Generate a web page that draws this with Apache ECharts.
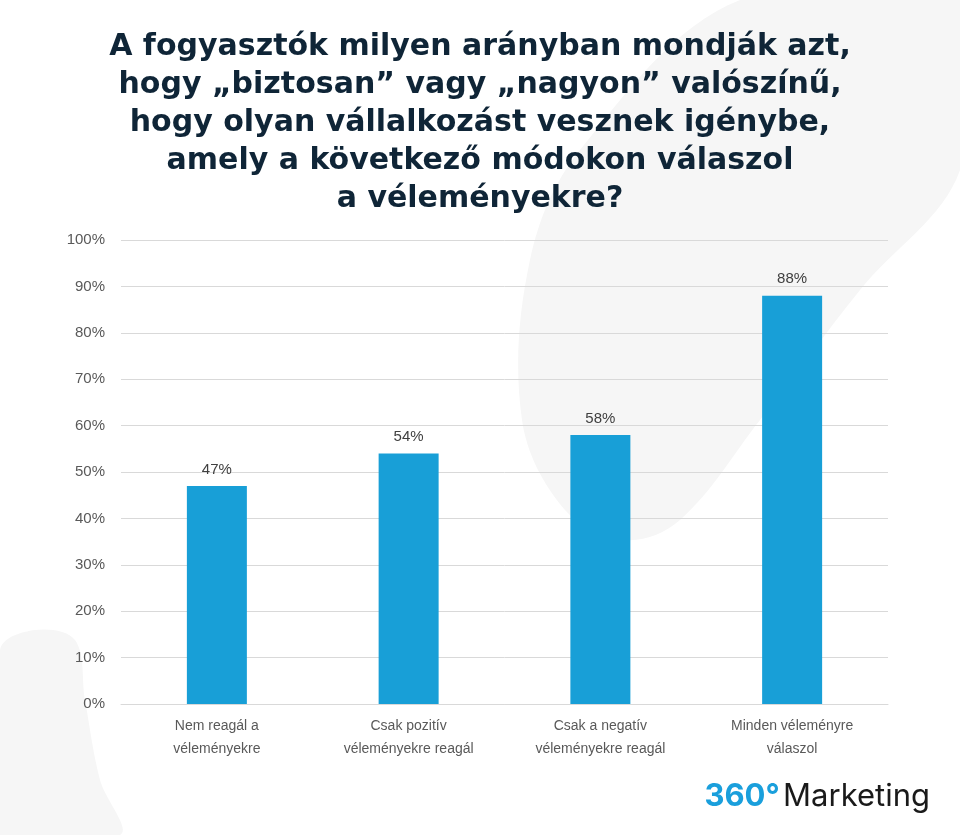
<!DOCTYPE html>
<html>
<head>
<meta charset="utf-8">
<script src="https://cdn.jsdelivr.net/npm/echarts@6/dist/echarts.min.js"></script>
<style>
html,body{margin:0;padding:0;background:#fff;}
#c{width:960px;height:835px;}
</style>
</head>
<body>
<div id="c"></div>
<script>
const titleLines = [
  'A fogyasztók milyen arányban mondják azt,',
  'hogy „biztosan” vagy „nagyon” valószínű,',
  'hogy olyan vállalkozást vesznek igénybe,',
  'amely a következő módokon válaszol',
  'a véleményekre?'
];
const categories = [
  'Nem reagál a\nvéleményekre',
  'Csak pozitív\nvéleményekre reagál',
  'Csak a negatív\nvéleményekre reagál',
  'Minden véleményre\nválaszol'
];
const values = [47, 54, 58, 88];
const yMin = 0, yMax = 100, yStep = 10;

const chart = echarts.init(document.getElementById('c'), null, {renderer: 'canvas'});
chart.setOption({
  backgroundColor: '#ffffff',
  animation: false,
  title: {
    text: titleLines.join('\n'), left: 'center', top: 23,
    textStyle: {color: '#0f2537', fontFamily: '"DejaVu Sans", sans-serif', fontWeight: 'bold', fontSize: 30, lineHeight: 38}
  },
  graphic: [
    {type: 'polygon', z: -10, shape: {smooth: 0.35, points: [[580,150],[530,260],[522,420],[565,510],[625,540],[680,520],[760,420],[860,290],[960,170],[960,0],[740,0]]}, style: {fill: '#f6f6f6'}},
    {type: 'polygon', z: -10, shape: {smooth: 0.35, points: [[0,650],[35,630],[75,640],[85,700],[100,780],[120,835],[0,835]]}, style: {fill: '#f6f6f6'}},
    {type: 'text', right: 30, top: 781, z: 10, style: {
      text: '{a|360°} {b|Marketing}',
      rich: {
        a: {fill: '#1a9fdc', font: 'bold 31px Inter, "Noto Sans", sans-serif'},
        b: {fill: '#1a1a1a', font: '400 31px Inter, "Noto Sans", sans-serif'}
      }
    }}
  ],
  grid: {left: 121, right: 72, top: 240, bottom: 131, containLabel: false},
  xAxis: {
    type: 'category', data: categories,
    axisLine: {lineStyle: {color: '#d9d9d9', width: 1}},
    axisTick: {show: false},
    axisLabel: {color: '#595959', fontSize: 14, lineHeight: 23, margin: 11, fontFamily: '"Liberation Sans", Arial, sans-serif', interval: 0}
  },
  yAxis: {
    type: 'value', min: yMin, max: yMax, interval: yStep,
    axisLine: {show: false}, axisTick: {show: false},
    splitLine: {lineStyle: {color: '#d9d9d9', width: 1}},
    axisLabel: {color: '#595959', fontSize: 15, margin: 16, fontFamily: '"Liberation Sans", Arial, sans-serif', formatter: v => v + '%'}
  },
  series: [{
    type: 'bar', data: values, barWidth: 60,
    itemStyle: {color: '#189fd7'},
    label: {show: true, position: 'top', distance: 9, color: '#404040', fontSize: 15, fontFamily: '"Liberation Sans", Arial, sans-serif', formatter: p => p.value + '%'}
  }]
});
</script>
</body>
</html>
